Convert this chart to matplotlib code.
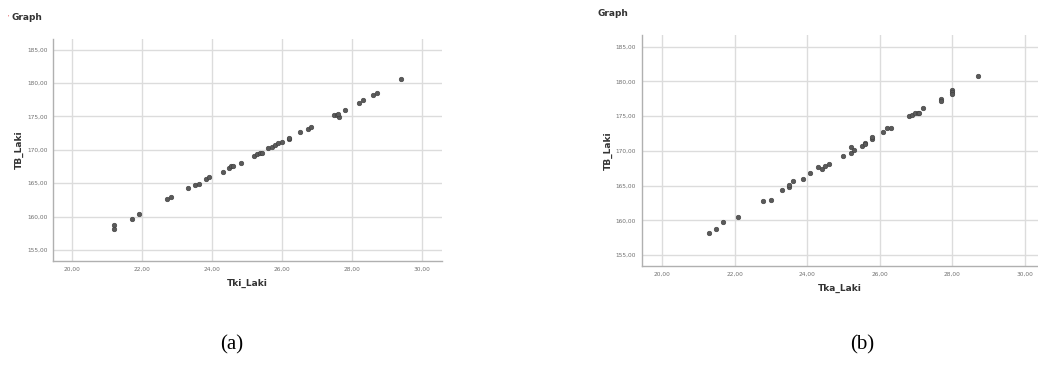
import matplotlib
matplotlib.use("Agg")
import matplotlib.pyplot as plt
from matplotlib.ticker import FuncFormatter

# Panel (a): Tki_Laki vs TB_Laki
tki_laki = [21.21, 21.21, 21.71, 21.91, 22.71, 22.82, 23.31, 23.51, 23.62, 23.82,
            23.92, 24.32, 24.49, 24.53, 24.61, 24.82, 25.21, 25.28, 25.37, 25.42,
            25.61, 25.71, 25.80, 25.89, 25.99, 26.20, 26.21, 26.51, 26.75, 26.82,
            27.49, 27.56, 27.62, 27.60, 27.81, 28.20, 28.31, 28.61, 28.71, 29.41]
tb_laki_a = [158.70, 158.10, 159.64, 160.34, 162.68, 162.89, 164.33, 164.73, 164.93, 165.58,
             165.88, 166.72, 167.23, 167.57, 167.62, 168.07, 169.07, 169.33, 169.52, 169.57,
             170.22, 170.47, 170.72, 170.97, 171.21, 171.57, 171.81, 172.61, 173.16, 173.36,
             175.26, 175.26, 174.96, 175.41, 176.00, 177.00, 177.40, 178.16, 178.55, 180.60]

# Panel (b): Tka_Laki vs TB_Laki
tka_laki = [21.29, 21.49, 21.69, 22.08, 22.79, 22.99, 23.30, 23.50, 23.50, 23.60,
            23.89, 24.09, 24.30, 24.40, 24.48, 24.60, 24.99, 25.20, 25.20, 25.30,
            25.50, 25.60, 25.60, 25.79, 25.79, 26.10, 26.20, 26.30, 26.80, 26.89,
            26.98, 27.04, 27.09, 27.19, 27.69, 27.69, 28.00, 28.00, 28.00, 28.70]
tb_laki_b = [158.17, 158.75, 159.72, 160.44, 162.79, 162.98, 164.38, 164.81, 165.06, 165.68,
             165.97, 166.83, 167.70, 167.37, 167.89, 168.17, 169.24, 169.67, 170.54, 170.20,
             170.73, 171.20, 171.00, 171.69, 171.93, 172.71, 173.23, 173.37, 175.10, 175.20,
             175.39, 175.50, 175.39, 176.11, 177.47, 177.12, 178.77, 178.43, 178.23, 180.73]

x_ticks = [20, 22, 24, 26, 28, 30]
y_ticks = [155, 160, 165, 170, 175, 180, 185]

fig = plt.figure(figsize=(10.38, 3.69), dpi=100)

fmt = FuncFormatter(lambda v, p: f"{v:.2f}".replace(".", ","))


def style(ax, xs, ys, xlabel, xlim, ylim):
    ax.scatter(xs, ys, s=11, color="#5a5a5a", edgecolors="#3c3c3c",
               linewidths=0.4, zorder=3)
    ax.set_xlim(*xlim)
    ax.set_ylim(*ylim)
    ax.set_xticks(x_ticks)
    ax.set_yticks(y_ticks)
    ax.xaxis.set_major_formatter(fmt)
    ax.yaxis.set_major_formatter(fmt)
    ax.grid(True, color="#dcdcdc", linewidth=1.0, zorder=0)
    ax.set_axisbelow(True)
    for side in ("top", "right"):
        ax.spines[side].set_visible(False)
    for side in ("left", "bottom"):
        ax.spines[side].set_color("#b0b0b0")
        ax.spines[side].set_linewidth(1.0)
    ax.tick_params(length=0, labelsize=4.2, labelcolor="#707070", pad=4)
    ax.set_xlabel(xlabel, fontsize=6.5, fontweight="bold", color="#333333",
                  labelpad=5)
    ax.set_ylabel("TB_Laki", fontsize=6.5, fontweight="bold", color="#333333",
                  labelpad=2)


ax1 = fig.add_axes([53 / 1038, 1 - 261 / 369, (442 - 53) / 1038, (261 - 39) / 369])
style(ax1, tki_laki, tb_laki_a, "Tki_Laki", (19.46, 30.57), (153.35, 186.6))

ax2 = fig.add_axes([641.7 / 1038, 1 - 266.3 / 369, (1038 - 641.7) / 1038, (266.3 - 35) / 369])
style(ax2, tka_laki, tb_laki_b, "Tka_Laki", (19.44, 30.36), (153.37, 186.7))

fig.text(12 / 1038, 1 - 18 / 369, "Graph", fontsize=6.5, fontweight="bold",
         color="#333333", va="center", ha="left")
fig.text(7 / 1038, 1 - 17 / 369, "'", fontsize=4, color="#e03030",
         va="center", ha="left")
fig.text(598 / 1038, 1 - 14 / 369, "Graph", fontsize=6.5, fontweight="bold",
         color="#333333", va="center", ha="left")

fig.text(232 / 1038, 1 - 345 / 369, "(a)", fontsize=15, family="Liberation Serif",
         ha="center", va="center")
fig.text(862 / 1038, 1 - 345 / 369, "(b)", fontsize=15, family="Liberation Serif",
         ha="center", va="center")

fig.savefig("out.png", dpi=100, facecolor="white")
